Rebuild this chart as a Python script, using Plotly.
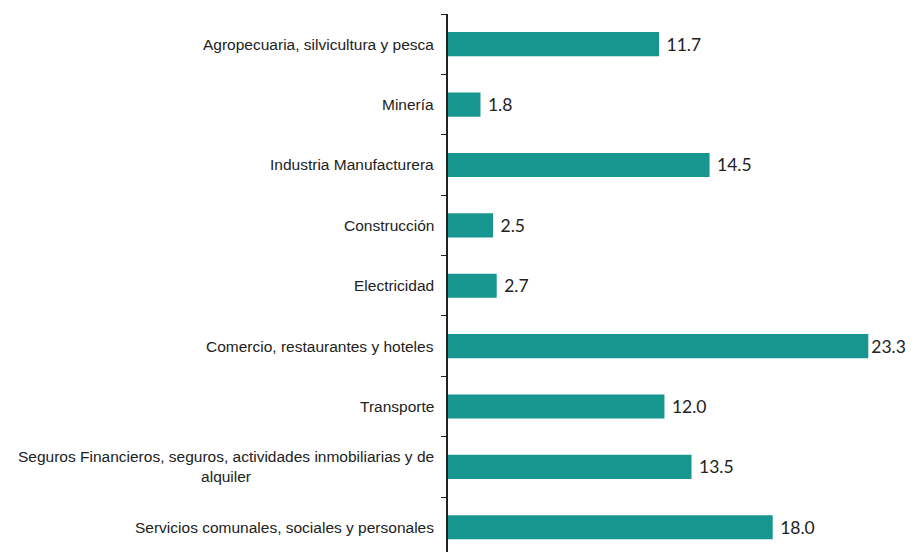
import plotly.graph_objects as go

sectores = [
    "Agropecuaria, silvicultura y pesca",
    "Minería",
    "Industria Manufacturera",
    "Construcción",
    "Electricidad",
    "Comercio, restaurantes y hoteles",
    "Transporte",
    "Seguros Financieros, seguros, actividades inmobiliarias y de<br>alquiler",
    "Servicios comunales, sociales y personales",
]
valores = [11.7, 1.8, 14.5, 2.5, 2.7, 23.3, 12.0, 13.5, 18.0]

# a little extra gap before each value, except the longest one (it would hit the edge)
etiquetas = [("%.1f" if v == max(valores) else "\u00a0%.1f") % v for v in valores]

fig = go.Figure()
fig.add_trace(go.Bar(
    y=sectores, x=valores, orientation="h",
    marker=dict(color="#16968f", line=dict(width=0)),
    width=0.4,
    text=etiquetas,
    textposition="outside",
    textfont=dict(family="Lato", size=17.5, color="#222222"),
    constraintext="none",
    cliponaxis=False,
))

for s in sectores:
    fig.add_annotation(
        x=0, xref="paper", y=s, yref="y",
        text=s, showarrow=False, xanchor="right", xshift=-12,
        align="center",
        font=dict(family="Liberation Sans", size=15.5, color="#222222"),
    )

# the page body has an 8px margin, so the figure is drawn 8px in from the corner
fig.update_layout(
    width=909, height=544,
    margin=dict(l=440, r=0, t=6, b=0),
    plot_bgcolor="white", paper_bgcolor="white",
    showlegend=False,
    bargap=0.6,
)
fig.update_xaxes(range=[0, 26.0], visible=False)
fig.update_yaxes(
    type="category", range=[8.41, -0.5],
    showticklabels=False, tickson="boundaries",
    ticks="outside", ticklen=5, tickcolor="#222222", tickwidth=1.3,
    showline=True, linecolor="#222222", linewidth=1.5,
    showgrid=False, zeroline=False,
)

fig.write_html("out.html")
